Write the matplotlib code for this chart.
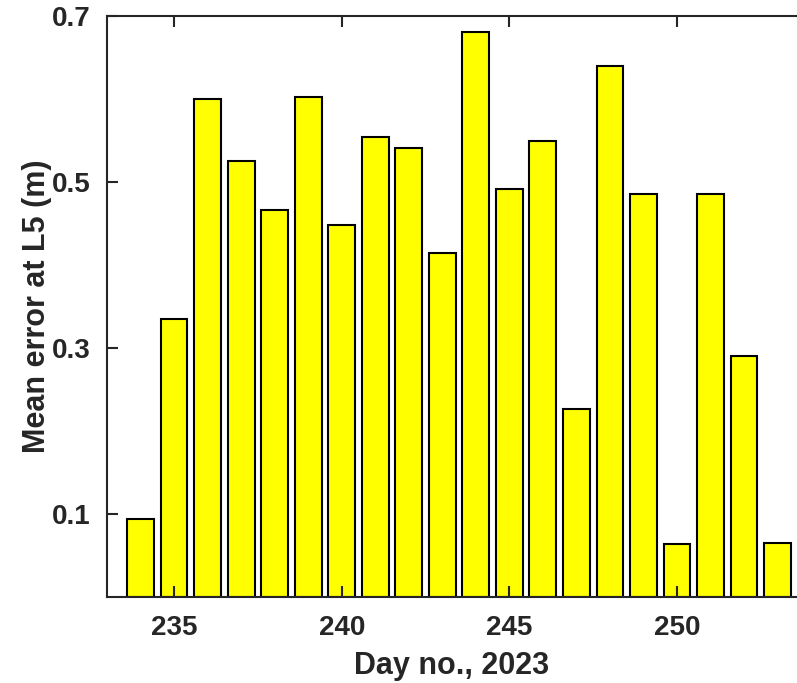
import numpy as np
import matplotlib.pyplot as plt

plt.rcParams['font.family'] = ['Liberation Sans', 'DejaVu Sans']
plt.rcParams['font.weight'] = 'bold'

days = np.arange(234, 254)
mean_err = [0.094, 0.335, 0.600, 0.525, 0.466, 0.602, 0.448, 0.554, 0.541, 0.415,
            0.681, 0.491, 0.549, 0.226, 0.640, 0.485, 0.064, 0.486, 0.290, 0.065]
xticks = [235, 240, 245, 250]
yticks = [0.1, 0.3, 0.5, 0.7]

fig = plt.figure(figsize=(7.97, 6.83), dpi=100)
ax = fig.add_axes([107/797, 1 - 597/683, 1 - 107/797, (597 - 16)/683])

ax.bar(days, mean_err, width=0.8, color='#ffff00', edgecolor='black', linewidth=1.5)

ax.set_xlim(233.0, 253.58)
ax.set_ylim(0, 0.7)
ax.set_xticks(xticks)
ax.set_yticks(yticks)
ax.set_yticklabels([f"{v:.1f}" for v in yticks])

c = '#262626'
for s in ['left', 'bottom', 'top']:
    ax.spines[s].set_color(c)
    ax.spines[s].set_linewidth(1.5)
ax.spines['right'].set_visible(False)
ax.tick_params(direction='in', length=8, width=1.5, color=c, labelcolor=c,
               labelsize=20, top=True, right=False)
ax.tick_params(axis='x', pad=13)
ax.tick_params(axis='y', pad=12)

ax.set_xlabel("Day no., 2023", fontsize=22, fontweight='bold', color=c, labelpad=7)
ax.set_ylabel("Mean error at L5 (m)", fontsize=22, fontweight='bold', color=c, labelpad=0)

fig.savefig("out.png", dpi=100)
